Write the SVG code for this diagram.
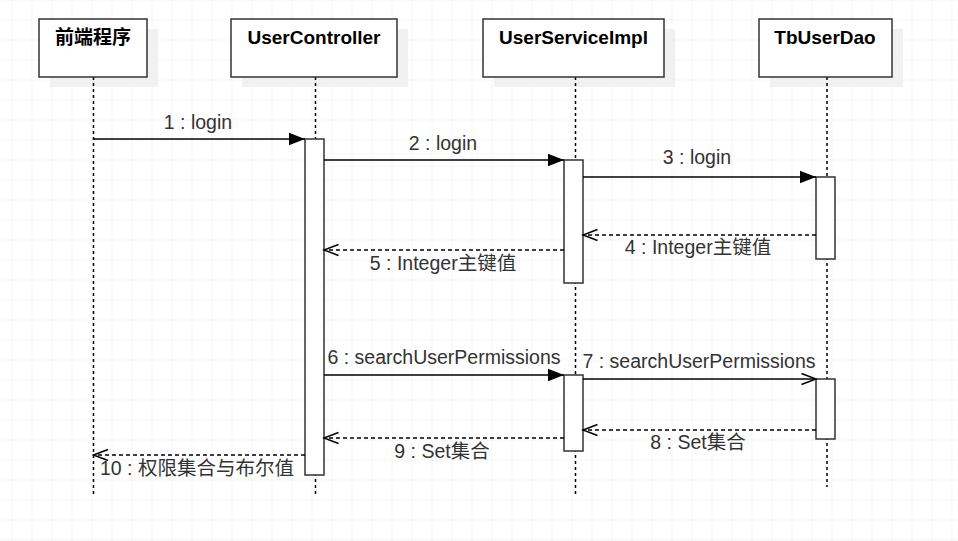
<svg xmlns="http://www.w3.org/2000/svg" width="958" height="541" viewBox="0 0 958 541">
  <defs>
    <pattern id="grid" x="11.5" y="19.5" width="20" height="20" patternUnits="userSpaceOnUse">
      <path d="M0 0 H20 M0 0 V20" fill="none" stroke="#ebebeb" stroke-width="1"/>
    </pattern>
    <marker id="filled" markerUnits="userSpaceOnUse" markerWidth="18" markerHeight="14" refX="16" refY="7" orient="auto">
      <path d="M0 0.8 L16 7 L0 13.2 Z" fill="#000"/>
    </marker>
    <marker id="open" markerUnits="userSpaceOnUse" markerWidth="18" markerHeight="14" refX="16" refY="7" orient="auto">
      <path d="M1.5 1.5 L16 7 L1.5 12.5" fill="none" stroke="#000" stroke-width="1.5"/>
    </marker>
  </defs>
  <style>
    .shadow { fill: #f1f1f1; stroke: none; }
    .box { fill: #fff; stroke: #333; stroke-width: 1.5; }
    .title { font-family: "Liberation Sans", "Noto Sans CJK SC", sans-serif; font-weight: bold; font-size: 19px; fill: #000; text-anchor: middle; }
    .life { stroke: #000; stroke-width: 1.5; stroke-dasharray: 3 3; fill: none; }
    .act { fill: #fff; stroke: #333; stroke-width: 1.5; }
    .call { stroke: #000; stroke-width: 1.5; fill: none; marker-end: url(#filled); }
    .async { stroke: #000; stroke-width: 1.5; fill: none; marker-end: url(#open); }
    .ret { stroke: #000; stroke-width: 1.5; fill: none; stroke-dasharray: 4 3; marker-end: url(#open); }
    .lbl { font-family: "Liberation Sans", "Noto Sans CJK SC", sans-serif; font-size: 19.5px; fill: #333; text-anchor: middle; }
  </style>
  <rect width="958" height="541" fill="#fff"/>
  <rect width="958" height="541" fill="url(#grid)"/>

  <g id="node-frontend">
    <rect class="shadow" x="50" y="29" width="108" height="58"/>
    <line class="life" x1="93.5" y1="77" x2="93.5" y2="497"/>
    <rect class="box" x="39" y="19" width="108" height="58"/>
    <text class="title" x="93" y="44">前端程序</text>
  </g>
  <g id="node-usercontroller">
    <rect class="shadow" x="242" y="29" width="166" height="58"/>
    <line class="life" x1="315.5" y1="77" x2="315.5" y2="497"/>
    <rect class="box" x="231" y="19" width="166" height="58"/>
    <text class="title" x="314" y="44">UserController</text>
  </g>
  <g id="node-userserviceimpl">
    <rect class="shadow" x="494" y="29" width="181" height="58"/>
    <line class="life" x1="575.5" y1="77" x2="575.5" y2="495"/>
    <rect class="box" x="483" y="19" width="181" height="58"/>
    <text class="title" x="573.5" y="44">UserServiceImpl</text>
  </g>
  <g id="node-tbuserdao">
    <rect class="shadow" x="770" y="29" width="133" height="58"/>
    <line class="life" x1="827" y1="77" x2="827" y2="487"/>
    <rect class="box" x="759" y="19" width="133" height="58"/>
    <text class="title" x="825" y="44">TbUserDao</text>
  </g>

  <g id="activations">
    <rect class="act" x="305" y="139" width="19" height="336"/>
    <rect class="act" x="564" y="160" width="19" height="123"/>
    <rect class="act" x="816" y="177" width="19" height="82"/>
    <rect class="act" x="564" y="375" width="19" height="76"/>
    <rect class="act" x="816" y="379" width="19" height="60"/>
  </g>

  <g id="connectors">
    <line class="call" x1="93.5" y1="139" x2="305" y2="139"/>
    <text class="lbl" x="198" y="129">1 : login</text>

    <line class="call" x1="324" y1="160" x2="564" y2="160"/>
    <text class="lbl" x="443" y="150">2 : login</text>

    <line class="call" x1="583" y1="177" x2="816" y2="177"/>
    <text class="lbl" x="697" y="164">3 : login</text>

    <line class="ret" x1="816" y1="235" x2="583" y2="235"/>
    <text class="lbl" x="698" y="254">4 : Integer主键值</text>

    <line class="ret" x1="564" y1="250" x2="324" y2="250"/>
    <text class="lbl" x="443" y="270">5 : Integer主键值</text>

    <line class="call" x1="324" y1="375" x2="564" y2="375"/>
    <text class="lbl" x="444" y="364">6 : searchUserPermissions</text>

    <line class="async" x1="583" y1="379" x2="816" y2="379"/>
    <text class="lbl" x="699" y="368">7 : searchUserPermissions</text>

    <line class="ret" x1="816" y1="430" x2="583" y2="430"/>
    <text class="lbl" x="698" y="449">8 : Set集合</text>

    <line class="ret" x1="564" y1="438" x2="324" y2="438"/>
    <text class="lbl" x="442" y="458">9 : Set集合</text>

    <line class="ret" x1="305" y1="455" x2="93.5" y2="455"/>
    <text class="lbl" x="197" y="475">10 : 权限集合与布尔值</text>
  </g>
</svg>
